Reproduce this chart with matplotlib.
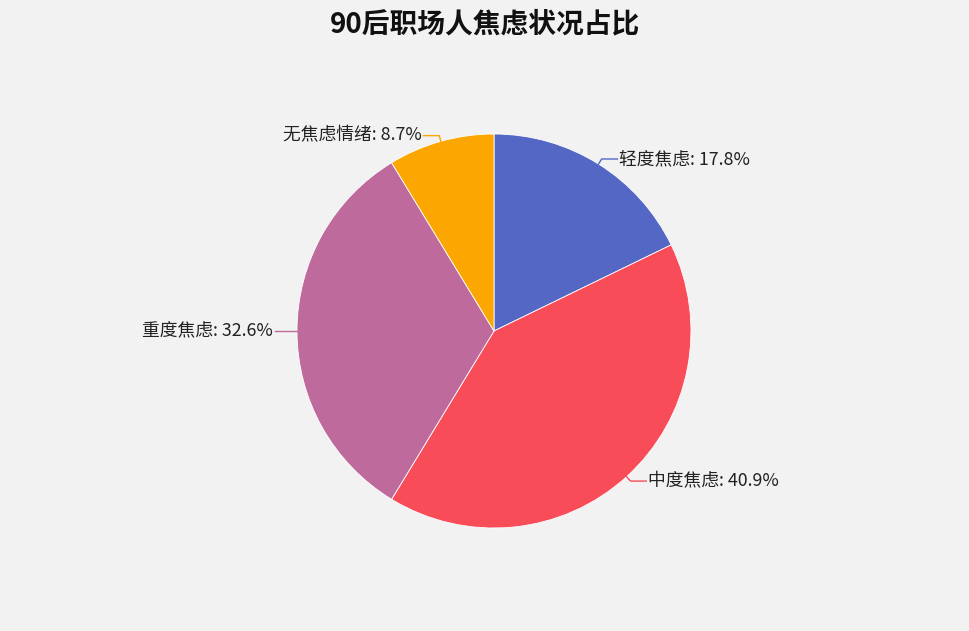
import numpy as np
import matplotlib
matplotlib.use("Agg")
import matplotlib.pyplot as plt

plt.rcParams['font.family'] = ['Noto Sans CJK SC', 'DejaVu Sans']

title = "90后职场人焦虑状况占比"
labels = ["轻度焦虑", "中度焦虑", "重度焦虑", "无焦虑情绪"]
values = [17.8, 40.9, 32.6, 8.7]
colors = ["#5567c4", "#f84c58", "#be6a9c", "#fba601"]

W, H = 970, 631
cx, cy, R = 494, 331, 197  # pixel layout of the pie

fig = plt.figure(figsize=(W / 100, H / 100), dpi=100, facecolor="#f2f2f2")
ax = fig.add_axes([0, 0, 1, 1])
ax.set_facecolor("#f2f2f2")

wedges, _ = ax.pie(values, colors=colors, startangle=90, counterclock=False,
                   radius=1, center=(0, 0),
                   wedgeprops=dict(linewidth=0.6, edgecolor="white"))

# pie() resets the limits, so set them afterwards
ax.set_xlim(-cx / R, (W - cx) / R)
ax.set_ylim(-(H - cy) / R, cy / R)
ax.set_aspect("equal")
ax.axis("off")

for w, lab, val, col in zip(wedges, labels, values, colors):
    ang = np.deg2rad((w.theta1 + w.theta2) / 2)
    c, s = np.cos(ang), np.sin(ang)
    p0 = (c, s)
    p1 = (1.03 * c, 1.03 * s)
    side = 1 if c >= 0 else -1
    p2 = (p1[0] + side * 0.08, p1[1])
    ax.plot([p0[0], p1[0], p2[0]], [p0[1], p1[1], p2[1]], color=col, lw=1)
    ax.text(p2[0] + side * 0.01, p2[1], f"{lab}: {val}%",
            ha="left" if side > 0 else "right", va="center",
            fontsize=12.8, color="#222222")

fig.text(0.5, 1 - 24 / H, title, ha="center", va="center",
         fontsize=20, fontweight="bold", color="#111111")

fig.savefig("out.png", dpi=100, facecolor=fig.get_facecolor())
